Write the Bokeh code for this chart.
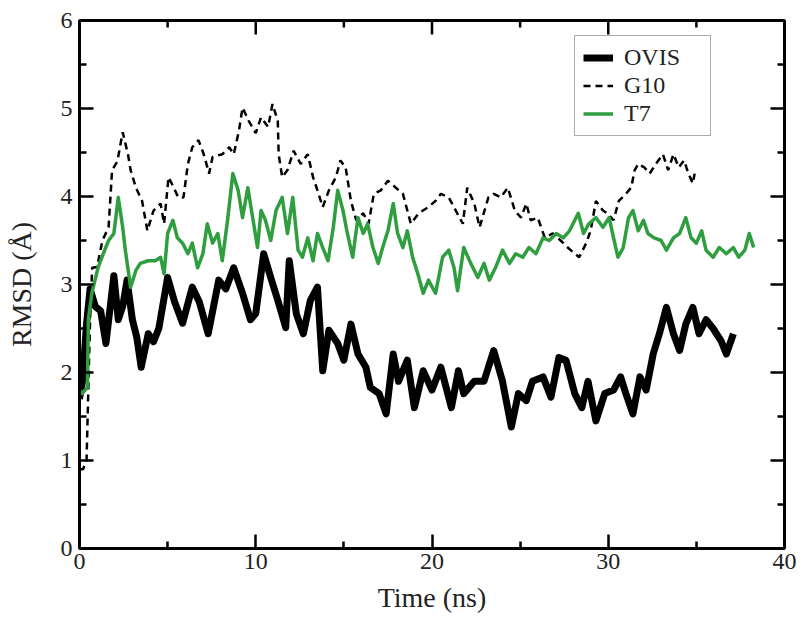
import math
from bokeh.plotting import figure
from bokeh.models import Range1d, Legend, LegendItem, FixedTicker
from bokeh.embed import file_html
from bokeh.resources import INLINE

# ---------------- data ----------------
ovis_t = [0.0, 0.17, 0.4, 0.6, 0.9, 1.2, 1.5, 1.95, 2.2, 2.45, 2.7, 3.0, 3.25, 3.5, 3.9, 4.2,
          4.5, 5.0, 5.4, 5.85, 6.4, 6.8, 7.3, 7.9, 8.3, 8.75, 9.25, 9.7, 10.0, 10.45, 10.85,
          11.25, 11.7, 11.9, 12.3, 12.7, 13.1, 13.5, 13.8, 14.15, 14.65, 15.0, 15.4, 15.8,
          16.25, 16.5, 17.0, 17.4, 17.8, 18.1, 18.6, 19.0, 19.5, 20.0, 20.5, 21.1, 21.5,
          21.8, 22.4, 22.95, 23.5, 24.0, 24.5, 24.9, 25.35, 25.7, 26.3, 26.75, 27.2, 27.6,
          28.1, 28.5, 28.85, 29.3, 29.8, 30.3, 30.7, 31.0, 31.4, 31.8, 32.15, 32.55, 32.9,
          33.3, 33.7, 34.05, 34.4, 34.8, 35.15, 35.55, 35.95, 36.4, 36.7, 37.1]
ovis_v = [1.70, 1.90, 2.55, 2.95, 2.75, 2.70, 2.33, 3.10, 2.60, 2.75, 3.05, 2.60, 2.40, 2.06,
          2.44, 2.35, 2.50, 3.08, 2.80, 2.56, 2.97, 2.80, 2.44, 3.05, 2.95, 3.19, 2.90, 2.60,
          2.67, 3.35, 3.08, 2.82, 2.51, 3.27, 2.67, 2.44, 2.82, 2.97, 2.02, 2.48, 2.33, 2.14,
          2.55, 2.21, 2.06, 1.83, 1.76, 1.53, 2.21, 1.90, 2.14, 1.60, 2.02, 1.80, 2.06, 1.60,
          2.02, 1.76, 1.90, 1.90, 2.25, 1.90, 1.38, 1.76, 1.68, 1.90, 1.95, 1.72, 2.17, 2.14,
          1.76, 1.60, 1.90, 1.45, 1.76, 1.80, 1.95, 1.76, 1.53, 1.95, 1.80, 2.21, 2.44, 2.74,
          2.44, 2.25, 2.55, 2.74, 2.44, 2.60, 2.50, 2.36, 2.21, 2.44]

g10_t = [0.0, 0.2, 0.4, 0.5, 0.6, 0.72, 1.0, 1.3, 1.65, 1.85, 2.15, 2.45, 2.75, 2.9, 3.2,
         3.55, 3.85, 4.2, 4.6, 4.8, 5.05, 5.35, 5.6, 5.9, 6.15, 6.4, 6.75, 7.05, 7.35, 7.55,
         8.1, 8.5, 8.75, 9.05, 9.25, 9.6, 10.0, 10.3, 10.7, 10.95, 11.25, 11.3, 11.5, 11.8,
         12.15, 12.55, 12.95, 13.25, 13.5, 13.8, 14.15, 14.55, 14.8, 15.1, 15.4, 15.7, 16.1,
         16.4, 16.7, 17.1, 17.5, 17.95, 18.35, 18.8, 19.25, 19.8, 20.2, 20.5, 20.95, 21.35,
         21.75, 22.0, 22.4, 22.7, 23.2, 23.5, 23.9, 24.3, 24.7, 25.05, 25.35, 25.6, 26.0,
         26.4, 26.85, 27.3, 27.7, 28.1, 28.35, 28.75, 29.0, 29.3, 29.7, 30.0, 30.3, 30.6,
         31.0, 31.3, 31.5, 31.7, 32.05, 32.35, 32.7, 33.1, 33.4, 33.7, 34.0, 34.3, 34.55,
         34.8, 34.9]
g10_v = [0.90, 0.90, 1.00, 1.80, 2.60, 3.19, 3.20, 3.50, 3.65, 4.30, 4.40, 4.73, 4.48, 4.30,
         4.10, 3.95, 3.61, 3.84, 3.92, 3.69, 4.22, 4.10, 3.99, 3.99, 4.37, 4.56, 4.64, 4.48,
         4.26, 4.45, 4.48, 4.56, 4.48, 4.75, 5.01, 4.86, 4.72, 4.90, 4.79, 5.05, 4.86, 4.48,
         4.22, 4.30, 4.52, 4.37, 4.48, 4.22, 4.07, 3.88, 4.07, 4.22, 4.41, 4.33, 3.95, 3.73,
         3.81, 3.69, 4.03, 4.07, 4.18, 4.10, 4.03, 3.69, 3.81, 3.88, 3.95, 4.03, 3.99, 3.84,
         3.69, 4.10, 3.92, 3.65, 3.99, 4.03, 3.99, 4.10, 3.84, 3.76, 3.92, 3.73, 3.76, 3.53,
         3.58, 3.50, 3.42, 3.35, 3.31, 3.47, 3.61, 3.95, 3.84, 3.80, 3.73, 3.95, 4.03, 4.10,
         4.30, 4.37, 4.33, 4.26, 4.37, 4.48, 4.30, 4.48, 4.33, 4.41, 4.26, 4.15, 4.26]

t7_t = [0.0, 0.15, 0.45, 0.5, 0.7, 1.05, 1.35, 1.65, 1.95, 2.2, 2.45, 2.6, 2.9, 3.2, 3.45,
        3.9, 4.3, 4.6, 4.8, 5.0, 5.3, 5.55, 5.85, 6.15, 6.4, 6.7, 7.0, 7.25, 7.55, 7.85, 8.1,
        8.4, 8.7, 9.0, 9.25, 9.55, 9.85, 10.1, 10.3, 10.55, 10.85, 11.15, 11.5, 11.8, 12.1,
        12.4, 12.65, 12.95, 13.25, 13.5, 13.8, 14.1, 14.4, 14.65, 14.95, 15.2, 15.5, 15.8,
        16.1, 16.35, 16.65, 16.95, 17.2, 17.5, 17.8, 18.05, 18.35, 18.6, 18.9, 19.2, 19.5,
        19.8, 20.2, 20.6, 20.95, 21.25, 21.45, 21.8, 22.2, 22.6, 22.95, 23.25, 23.6, 24.0,
        24.4, 24.75, 25.15, 25.5, 25.9, 26.3, 26.65, 27.05, 27.45, 27.8, 28.3, 28.6, 28.9,
        29.3, 29.7, 30.05, 30.3, 30.55, 30.85, 31.15, 31.4, 31.7, 32.0, 32.25, 32.6, 33.0,
        33.3, 33.7, 34.05, 34.4, 34.7, 35.0, 35.3, 35.55, 35.95, 36.3, 36.7, 37.1, 37.4,
        37.75, 38.0, 38.25]
t7_v = [1.80, 1.76, 1.83, 2.60, 2.90, 3.19, 3.35, 3.50, 3.58, 3.99, 3.65, 3.39, 2.97, 3.16,
        3.24, 3.27, 3.27, 3.31, 3.12, 3.58, 3.73, 3.53, 3.47, 3.35, 3.47, 3.19, 3.35, 3.69,
        3.47, 3.58, 3.27, 3.73, 4.26, 4.07, 3.76, 4.10, 3.73, 3.42, 3.84, 3.73, 3.50, 3.84,
        3.99, 3.58, 3.99, 3.39, 3.31, 3.53, 3.27, 3.58, 3.42, 3.27, 3.65, 4.07, 3.84, 3.58,
        3.31, 3.76, 3.58, 3.69, 3.42, 3.24, 3.42, 3.61, 3.92, 3.58, 3.42, 3.61, 3.31, 3.12,
        2.90, 3.05, 2.90, 3.31, 3.39, 3.19, 2.93, 3.42, 3.24, 3.08, 3.24, 3.05, 3.19, 3.39,
        3.24, 3.35, 3.31, 3.42, 3.35, 3.53, 3.50, 3.58, 3.53, 3.61, 3.81, 3.58, 3.69, 3.76,
        3.65, 3.76, 3.53, 3.31, 3.42, 3.76, 3.84, 3.61, 3.73, 3.58, 3.53, 3.50, 3.39, 3.53,
        3.58, 3.76, 3.53, 3.47, 3.61, 3.39, 3.31, 3.42, 3.35, 3.42, 3.31, 3.39, 3.58, 3.42]

x_major = [0, 10, 20, 30, 40]
x_minor = [5, 15, 25, 35]
y_major = [0, 1, 2, 3, 4, 5, 6]
y_minor = [0.5, 1.5, 2.5, 3.5, 4.5, 5.5]

X_MIN, X_MAX = 0, 40
Y_MIN, Y_MAX = 0, 6

GREEN = "#2f9e3f"
SERIF = "Liberation Serif"
TXT = "#222222"

p = figure(width=800, height=626, x_range=Range1d(X_MIN, X_MAX), y_range=Range1d(Y_MIN, Y_MAX),
           output_backend="svg", toolbar_location=None,
           min_border_left=79, min_border_right=16, min_border_top=20, min_border_bottom=78,
           x_axis_label="Time (ns)", y_axis_label="RMSD (Å)")
p.grid.visible = False
p.outline_line_color = "black"
p.outline_line_width = 3
p.background_fill_color = "white"
p.border_fill_color = "white"

r_ovis = p.line(ovis_t, ovis_v, line_color="black", line_width=7, line_join="round")
r_g10 = p.line(g10_t, g10_v, line_color="black", line_width=2.5, line_dash="7 5")
r_t7 = p.line(t7_t, t7_v, line_color=GREEN, line_width=3.5, line_join="round")

for ax, maj, mnr in ((p.xaxis[0], x_major, x_minor), (p.yaxis[0], y_major, y_minor)):
    ax.ticker = FixedTicker(ticks=maj, minor_ticks=mnr)
    ax.axis_line_width = 3
    ax.axis_line_color = "black"
    ax.major_tick_in = 14
    ax.major_tick_out = 0
    ax.minor_tick_in = 7
    ax.minor_tick_out = 0
    ax.major_tick_line_width = 2.5
    ax.minor_tick_line_width = 2.5
    ax.major_tick_line_color = "black"
    ax.minor_tick_line_color = "black"
    ax.major_label_text_font = SERIF
    ax.major_label_text_font_size = "24px"
    ax.major_label_text_color = TXT
    ax.axis_label_text_font = SERIF
    ax.axis_label_text_font_size = "28px"
    ax.axis_label_text_font_style = "normal"
    ax.axis_label_text_color = TXT

p.xaxis[0].major_label_standoff = 5
p.yaxis[0].major_label_standoff = 7
p.xaxis[0].axis_label_standoff = 10
p.yaxis[0].axis_label_standoff = 21

# mirrored inward ticks on the top and right edges
p.ray(x=x_major, y=[Y_MAX] * len(x_major), length=14, length_units="screen",
      angle=-math.pi / 2, line_color="black", line_width=2.5)
p.ray(x=x_minor, y=[Y_MAX] * len(x_minor), length=7, length_units="screen",
      angle=-math.pi / 2, line_color="black", line_width=2.5)
p.ray(x=[X_MAX] * len(y_major), y=y_major, length=14, length_units="screen",
      angle=math.pi, line_color="black", line_width=2.5)
p.ray(x=[X_MAX] * len(y_minor), y=y_minor, length=7, length_units="screen",
      angle=math.pi, line_color="black", line_width=2.5)

legend = Legend(items=[LegendItem(label="OVIS", renderers=[r_ovis]),
                       LegendItem(label="G10", renderers=[r_g10]),
                       LegendItem(label="T7", renderers=[r_t7])],
                location=(495, 412))
legend.label_text_font = SERIF
legend.label_text_font_size = "24px"
legend.label_text_color = TXT
legend.border_line_color = "#555555"
legend.border_line_width = 1.5
legend.glyph_width = 30
legend.glyph_height = 25
legend.label_height = 25
legend.label_width = 78
legend.spacing = 1
legend.padding = 8
legend.margin = 0
legend.label_standoff = 11
legend.background_fill_alpha = 1
p.add_layout(legend, "center")

open("out.html", "w").write(file_html(p, INLINE))
